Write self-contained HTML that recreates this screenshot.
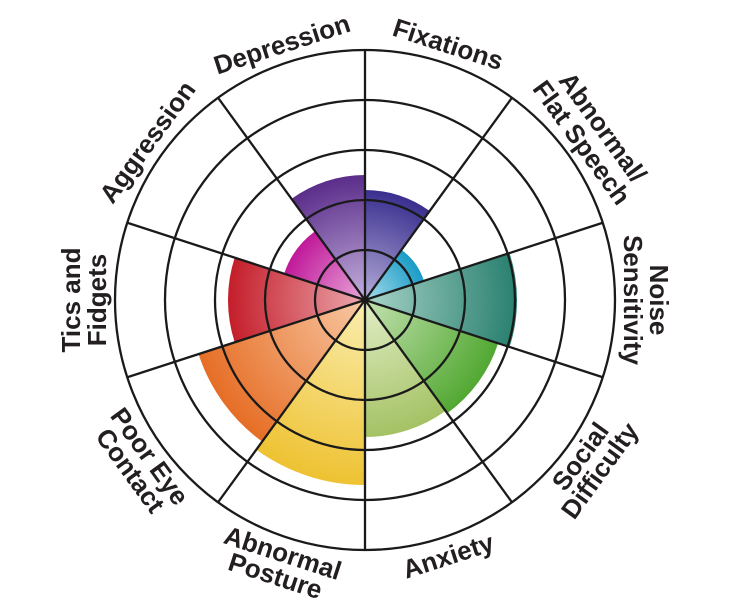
<!DOCTYPE html>
<html><head><meta charset="utf-8">
<style>
html,body{margin:0;padding:0;background:#fff;}
svg{display:block;}
text{font-family:"Liberation Sans",sans-serif;font-weight:bold;font-size:26px;fill:#231f20;}
</style></head>
<body>
<svg id="s" width="732" height="600" viewBox="0 0 732 600" xmlns="http://www.w3.org/2000/svg"></svg>
<script>
var cx=365,cy=300;
var wedges=[
 [110,"#3a2f8f","#b4acd8"],
 [62,"#1a9cc6","#a8dcec"],
 [152,"#2a8070","#a8d4c8"],
 [140,"#52a832","#c4e2b0"],
 [137,"#a4c264","#e2eec8"],
 [185,"#eec232","#faeeb0"],
 [175,"#e66e26","#f8c8a4"],
 [137,"#c41e2a","#eca8ae"],
 [85,"#c0189a","#e8a8d8"],
 [125,"#5a2d8a","#c4b0dc"]
];
function pt(r,a){var t=(a-90)*Math.PI/180;return [cx+r*Math.cos(t),cy+r*Math.sin(t)];}
var h='<defs>';
wedges.forEach(function(w,i){h+='<radialGradient id="g'+i+'" gradientUnits="userSpaceOnUse" cx="'+cx+'" cy="'+cy+'" r="'+w[0]+'"><stop offset="0" stop-color="'+w[2]+'"/><stop offset="1" stop-color="'+w[1]+'"/></radialGradient>';});
h+='</defs>';
wedges.forEach(function(w,i){var a1=i*36,a2=a1+36,p1=pt(w[0],a1),p2=pt(w[0],a2);
 h+='<path d="M'+cx+' '+cy+' L'+p1[0]+' '+p1[1]+' A'+w[0]+' '+w[0]+' 0 0 1 '+p2[0]+' '+p2[1]+' Z" fill="url(#g'+i+')"/>';});
[50,100,150,200,250].forEach(function(r){h+='<circle cx="'+cx+'" cy="'+cy+'" r="'+r+'" fill="none" stroke="#1a1a1a" stroke-width="2.3"/>';});
for(var i=0;i<10;i++){var p=pt(250,i*36);h+='<line x1="'+cx+'" y1="'+cy+'" x2="'+p[0]+'" y2="'+p[1]+'" stroke="#1a1a1a" stroke-width="2.3"/>';}
var labels=[["Fixations"],["Abnormal/","Flat Speech"],["Noise","Sensitivity"],["Social","Difficulty"],["Anxiety"],["Abnormal","Posture"],["Poor Eye","Contact"],["Tics and","Fidgets"],["Aggression"],["Depression"]];
labels.forEach(function(L,i){var th=i*36+18;var top=(th<=90||th>=270);
 if(i==2)top=true;if(i==7)top=true;
 var rot=top?th:th-180;
 h+='<g transform="translate('+cx+','+cy+') rotate('+rot+')">';
 if(top){ if(L.length==1) h+='<text x="0" y="-260" text-anchor="middle">'+L[0]+'</text>';
   else { h+='<text x="0" y="-285" text-anchor="middle">'+L[0]+'</text><text x="0" y="-259" text-anchor="middle">'+L[1]+'</text>'; } }
 else { if(L.length==1) h+='<text x="0" y="278" text-anchor="middle">'+L[0]+'</text>';
   else { h+='<text x="0" y="275" text-anchor="middle">'+L[0]+'</text><text x="0" y="299" text-anchor="middle">'+L[1]+'</text>'; } }
 h+='</g>';});
document.getElementById("s").innerHTML=h;
</script>
</body></html>
